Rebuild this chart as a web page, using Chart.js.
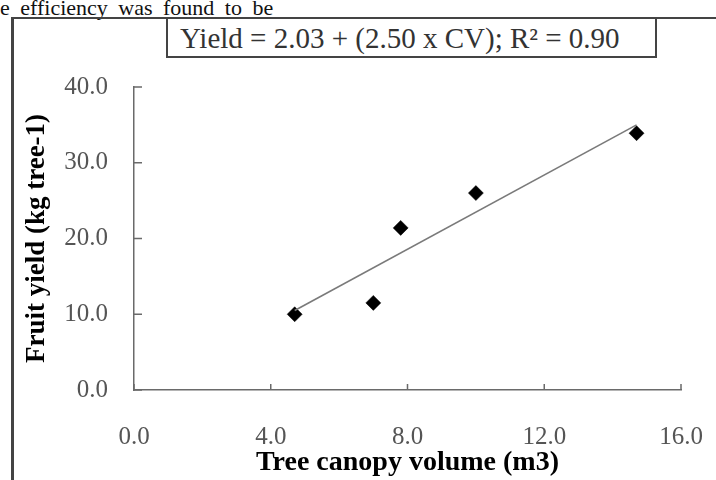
<!DOCTYPE html>
<html>
<head>
<meta charset="utf-8">
<script src="https://cdn.jsdelivr.net/npm/chart.js@4/dist/chart.umd.min.js"></script>
<style>
  html, body { margin: 0; padding: 0; background: #fff; }
  #wrap { position: relative; width: 716px; height: 480px; overflow: hidden; background: #fff; }
  #chart { position: absolute; left: 0; top: 0; }
  #bodytext { position: absolute; left: 0; top: -4px; font-family: "Liberation Serif", serif; font-size: 22px; line-height: 24px; color: #111; white-space: nowrap; word-spacing: 5px; }
  #frameTop { position: absolute; left: 11px; top: 17px; width: 720px; height: 2px; background: #444; }
  #frameLeft { position: absolute; left: 11px; top: 17px; width: 3px; height: 480px; background: #444; }
  #eqbox { position: absolute; left: 166px; top: 18px; width: 491px; height: 40px; border: 2px solid #444; border-top: 0; box-sizing: border-box; font-family: "Liberation Serif", serif; font-size: 29px; color: #333; text-align: left; padding-left: 12px; line-height: 40px; white-space: nowrap; }
</style>
</head>
<body>
<div id="wrap">
  <div id="bodytext">e efficiency was found to be</div>
  <div id="frameTop"></div>
  <div id="frameLeft"></div>
  <div id="eqbox">Yield = 2.03 + (2.50 x CV); R² = 0.90</div>
  <canvas id="chart" width="716" height="480"></canvas>
</div>
<script>
// Data
const canopyVolume = [4.7, 7.0, 7.8, 10.0, 14.7];
const fruitYield   = [10.0, 11.5, 21.4, 26.0, 33.9];
// Trend line end points as drawn in the picture
const trendX = [4.7, 14.7];
const trendY = [10.5, 35.0];
const xTicks = [0, 4, 8, 12, 16];
const yTicks = [0, 10, 20, 30, 40];

const axisColor = '#6a6a6a';

const inwardTicks = {
  id: 'inwardTicks',
  afterDatasetsDraw(chart) {
    const ctx = chart.ctx;
    const xs = chart.scales.x, ys = chart.scales.y;
    const area = chart.chartArea;
    ctx.save();
    ctx.strokeStyle = axisColor;
    ctx.lineWidth = 1.5;
    ctx.beginPath();
    xTicks.forEach(v => {
      const px = xs.getPixelForValue(v);
      ctx.moveTo(px, area.bottom);
      ctx.lineTo(px, area.bottom - 6);
    });
    yTicks.forEach(v => {
      const py = ys.getPixelForValue(v);
      ctx.moveTo(area.left, py);
      ctx.lineTo(area.left + 8, py);
    });
    ctx.stroke();
    ctx.restore();
  }
};

new Chart(document.getElementById('chart'), {
  type: 'scatter',
  data: {
    datasets: [
      {
        label: 'Trend',
        type: 'line',
        data: trendX.map((x, i) => ({ x: x, y: trendY[i] })),
        borderColor: '#7a7a7a',
        borderWidth: 1.6,
        pointRadius: 0,
        fill: false,
        tension: 0
      },
      {
        label: 'Fruit yield',
        data: canopyVolume.map((x, i) => ({ x: x, y: fruitYield[i] })),
        pointStyle: 'rectRot',
        pointRadius: 7.5,
        pointHoverRadius: 7.5,
        backgroundColor: '#000',
        borderColor: '#000',
        borderWidth: 0.5
      }
    ]
  },
  options: {
    responsive: false,
    animation: false,
    events: [],
    layout: { padding: { top: 87, right: 35, bottom: 0, left: 0 } },
    plugins: {
      legend: { display: false },
      tooltip: { enabled: false }
    },
    scales: {
      x: {
        type: 'linear',
        min: 0, max: 16,
        afterBuildTicks(scale) { scale.ticks = xTicks.map(v => ({ value: v })); },
        afterFit(scale) { scale.height = 90; scale.paddingLeft = 0; scale.paddingRight = 0; },
        grid: { display: true, drawOnChartArea: false, drawTicks: false },
        border: { display: true, color: axisColor, width: 1.5 },
        ticks: {
          padding: 32,
          color: '#555',
          font: { family: 'Liberation Serif', size: 25 },
          callback: v => v.toFixed(1)
        },
        title: {
          display: true,
          text: 'Tree canopy volume (m3)',
          color: '#000',
          font: { family: 'Liberation Serif', size: 28, weight: 'bold' },
          padding: { top: 0, bottom: 0 }
        }
      },
      y: {
        type: 'linear',
        min: 0, max: 40,
        afterBuildTicks(scale) { scale.ticks = yTicks.map(v => ({ value: v })); },
        afterFit(scale) { scale.width = 134; scale.paddingTop = 0; scale.paddingBottom = 0; },
        grid: { display: true, drawOnChartArea: false, drawTicks: false },
        border: { display: true, color: axisColor, width: 1.5 },
        ticks: {
          padding: 26,
          color: '#555',
          font: { family: 'Liberation Serif', size: 25 },
          callback: v => v.toFixed(1)
        },
        title: {
          display: true,
          text: 'Fruit yield (kg tree-1)',
          color: '#000',
          font: { family: 'Liberation Serif', size: 27, weight: 'bold' },
          padding: { top: 21, bottom: 0 }
        }
      }
    }
  },
  plugins: [inwardTicks]
});
</script>
</body>
</html>
